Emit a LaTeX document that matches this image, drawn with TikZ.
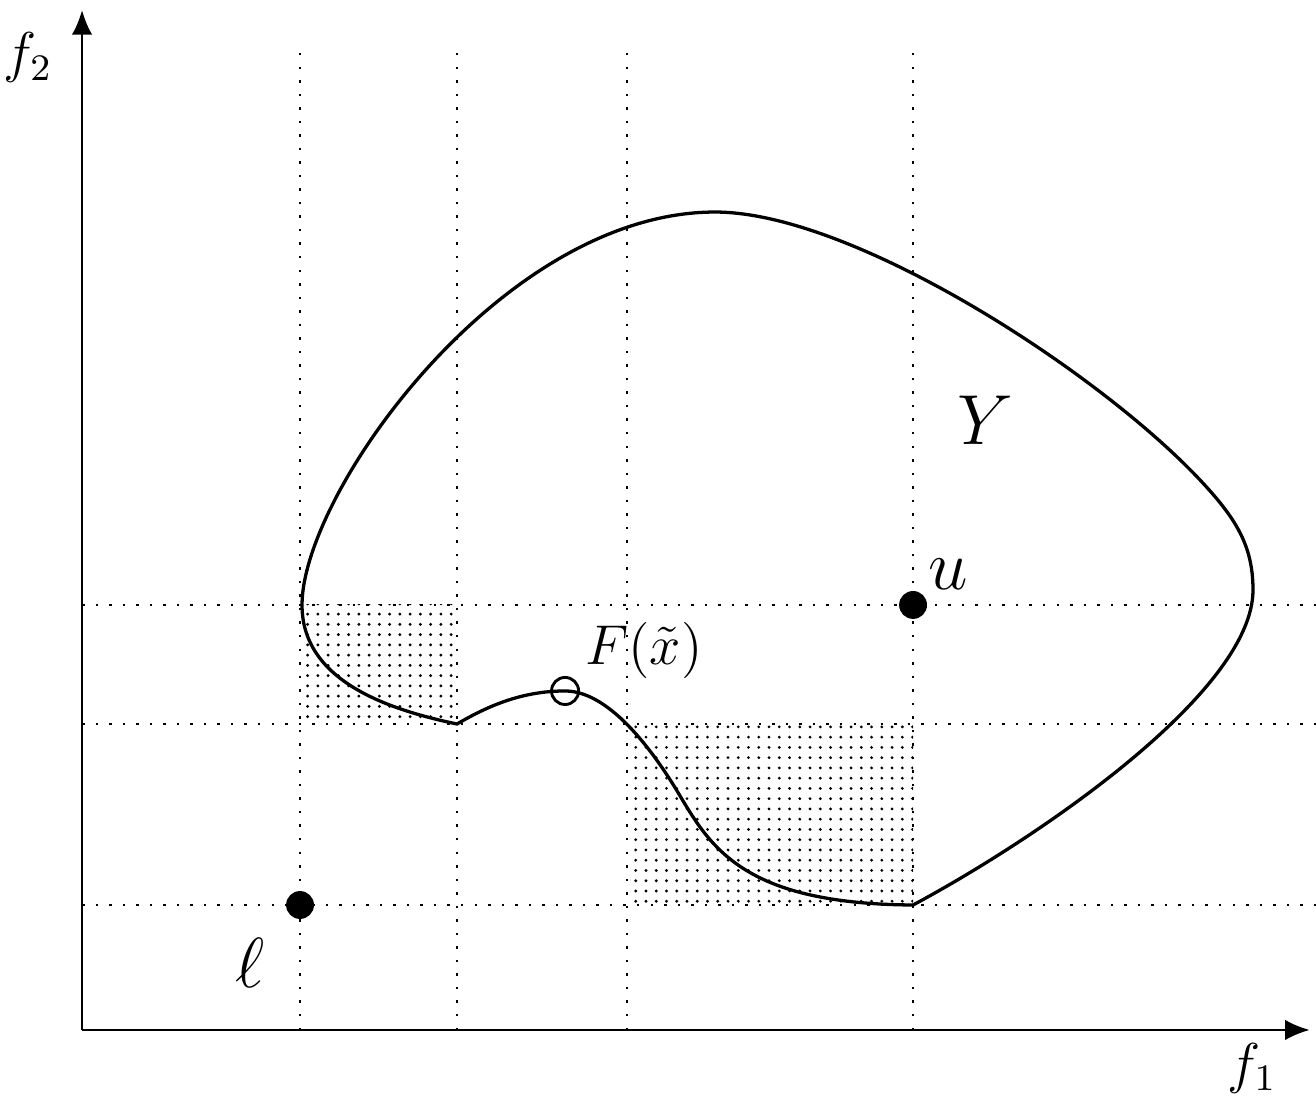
\documentclass[tikz,border=0pt,11pt]{standalone}
\usetikzlibrary{arrows.meta,positioning,patterns.meta}

\begin{document}
\begin{tikzpicture}[
  axis/.style={line width=0.6pt,-{Latex[length=6pt,width=5pt]}},
  gline/.style={line width=0.6pt,dash pattern=on 0.6pt off 2.7pt},
  dotfill/.style={pattern={Dots[distance=2.5pt,radius=0.38pt]}},
  bound/.style={line width=0.8pt},
  pt/.style={circle,fill=black,inner sep=0pt,minimum size=6.8pt},
  opt/.style={circle,draw=black,line width=0.7pt,inner sep=0pt,minimum size=6.6pt},
  lbl/.style={font=\LARGE,inner sep=1pt},
  ax/.style={font=\large,inner sep=1pt,scale=1.14,transform shape}
]
\useasboundingbox (-0.703,-0.566) rectangle (10.574,8.826);

% ---- shaded boxes
\path[dotfill] (1.868,2.622) rectangle (3.213,3.642);
\path[dotfill] (4.670,1.071) rectangle (7.121,2.622);

% ---- dotted grid
\foreach \x in {1.868,3.213,4.670,7.121}
  \draw[gline] (\x,0) -- (\x,8.466);
\foreach \y in {1.071,2.622,3.642}
  \draw[gline] (0,\y) -- (10.574,\y);

% ---- axes
\coordinate (O) at (0,0);
\coordinate (xend) at (10.52,0);
\coordinate (yend) at (0,8.74);
\draw[axis] (O) -- (xend);
\draw[axis] (O) -- (yend);
\node[ax] (f1) at (10.026,-0.33) {$f_1$};
\node[ax] (f2) at (-0.463,8.33) {$f_2$};

% ---- the set Y
\draw[bound] (3.213,2.622)
  .. controls (2.6,2.75) and (1.885,3.0) .. (1.885,3.642)
  .. controls (1.885,4.6) and (3.6,7.009) .. (5.424,7.009)
  .. controls (6.6,7.009) and (8.7,5.65) .. (9.580,4.713)
  .. controls (9.888,4.385) and (10.034,4.15) .. (10.034,3.77)
  .. controls (10.034,2.9) and (8.2,1.65) .. (7.121,1.071)
  .. controls (5.7,1.08) and (5.4,1.54) .. (5.125,2.005)
  .. controls (4.95,2.3) and (4.55,2.905) .. (4.139,2.905)
  .. controls (3.75,2.905) and (3.45,2.76) .. cycle;
\node[lbl] (Y) at (7.738,5.227) {$Y$};

% ---- points
\node[pt] (l) at (1.868,1.071) {};
\node[pt] (u) at (7.121,3.642) {};
\node[opt] (Fx) at (4.139,2.905) {};
\node[lbl,below left=0.15cm and 0.17cm of l] (lname) {$\ell$};
\node[lbl,above right=0pt and 0pt of u] (uname) {$u$};
\node[ax,above right=-1pt and 1pt of Fx] (Fname) {$F(\tilde{x})$};

\end{tikzpicture}
\end{document}
